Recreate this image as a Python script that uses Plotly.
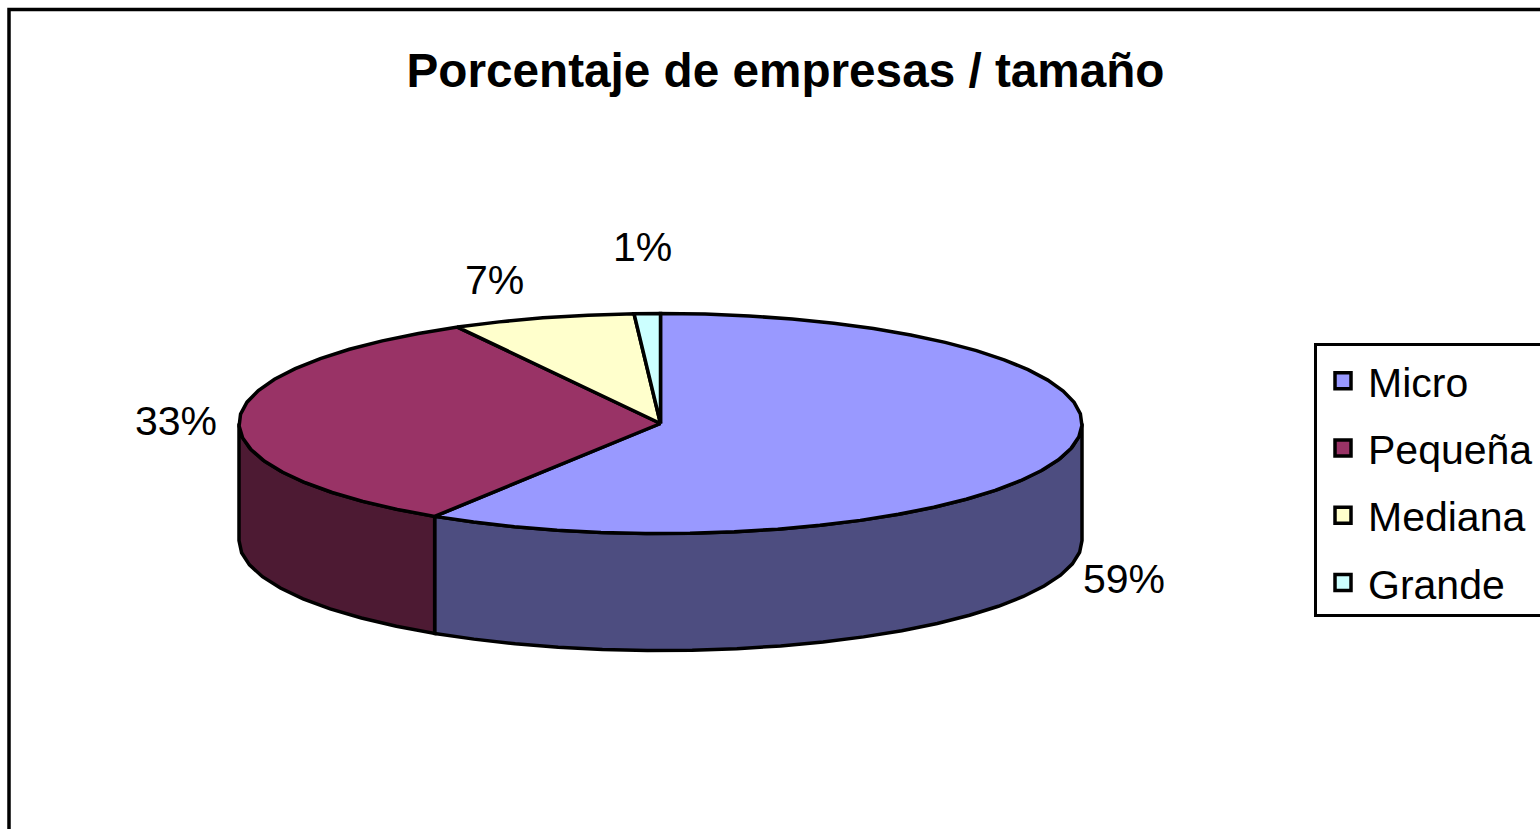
import numpy as np
import plotly.graph_objects as go

categories = ["Micro", "Pequeña", "Mediana", "Grande"]
values = [59, 33, 7, 1]
labels = ["59%", "33%", "7%", "1%"]
top_colors = ["#9999FF", "#993366", "#FFFFCC", "#CCFFFF"]
side_colors = ["#4D4D80", "#4D1A33", "#80806A", "#668080"]

W, H = 1540, 829
CX, CY, RX, RY, DEPTH = 660.5, 423.5, 421.5, 110.0, 117.0
LINE = 3.5
label_pos = [(1124, 579), (176, 421), (494, 280), (642, 247)]


def ell(t_deg):
    t = np.radians(t_deg)
    return CX + RX * np.sin(t), CY - RY * np.cos(t)


def arc(a, b, step=6.0):
    n = max(2, int(abs(b - a) / step) + 1)
    return np.linspace(a, b, n)


fig = go.Figure()
total = sum(values)
edges = np.concatenate([[0], np.cumsum(values)]) / total * 360

# Walls: only the front half of the ellipse (90..270 deg) is visible
for i in range(len(values)):
    a, b = max(edges[i], 90), min(edges[i + 1], 270)
    if b <= a:
        continue
    ts = arc(a, b)
    x, y = ell(ts)
    px = np.concatenate([x, x[::-1], x[:1]])
    py = np.concatenate([y, y[::-1] + DEPTH, y[:1]])
    fig.add_trace(go.Scatter(x=px, y=py, mode="lines", fill="toself",
                             fillcolor=side_colors[i],
                             line=dict(color="black", width=LINE),
                             showlegend=False, hoverinfo="skip"))

# Top faces
for i in range(len(values)):
    ts = arc(edges[i], edges[i + 1])
    x, y = ell(ts)
    px = np.concatenate([[CX], x, [CX]])
    py = np.concatenate([[CY], y, [CY]])
    fig.add_trace(go.Scatter(x=px, y=py, mode="lines", fill="toself",
                             fillcolor=top_colors[i],
                             line=dict(color="black", width=LINE),
                             showlegend=False, name=categories[i],
                             hovertemplate=f"{categories[i]}: {labels[i]}<extra></extra>"))

# Legend entries
for i, c in enumerate(categories):
    fig.add_trace(go.Scatter(x=[None], y=[None], mode="markers", name=c,
                             legendgroup=c,
                             marker=dict(symbol="square", size=16, color=top_colors[i],
                                         line=dict(color="black", width=3.5))))

for (lx, ly), t in zip(label_pos, labels):
    fig.add_annotation(x=lx, y=ly, text=t, showarrow=False,
                       font=dict(family="Liberation Sans", size=41, color="black"))

# Chart frame and legend box both run off the right edge of the picture
fig.add_shape(type="rect", xref="x", yref="y", x0=9, y0=9.5, x1=W + 50, y1=H + 50,
              line=dict(color="black", width=3.5), fillcolor="rgba(0,0,0,0)", layer="below")
fig.add_shape(type="rect", xref="x", yref="y", x0=1315.5, y0=344.5, x1=W + 50, y1=615.5,
              line=dict(color="black", width=3), fillcolor="white", layer="below")

fig.update_layout(
    width=W, height=H, autosize=False,
    margin=dict(l=0, r=0, t=0, b=0, pad=0, autoexpand=False),
    paper_bgcolor="white", plot_bgcolor="white",
    font=dict(family="Liberation Sans", color="black"),
    title=dict(text="<b>Porcentaje de empresas / tamaño</b>",
               x=785.5 / W, xanchor="center", y=1 - 70 / H, yanchor="middle",
               font=dict(family="Liberation Sans", size=47.7, color="black")),
    xaxis=dict(range=[0, W], visible=False, fixedrange=True),
    yaxis=dict(range=[H, 0], visible=False, fixedrange=True),
    legend=dict(x=1318 / W, xanchor="left", y=1 - 347.5 / H, yanchor="top",
                bgcolor="rgba(0,0,0,0)", borderwidth=0,
                font=dict(family="Liberation Sans", size=41, color="black"),
                tracegroupgap=11, itemsizing="trace", itemwidth=40,
                traceorder="grouped"),
)

fig.write_html("out.html", config={"displayModeBar": False},
               post_script="document.body.style.margin='0';document.body.style.overflow='hidden';")
